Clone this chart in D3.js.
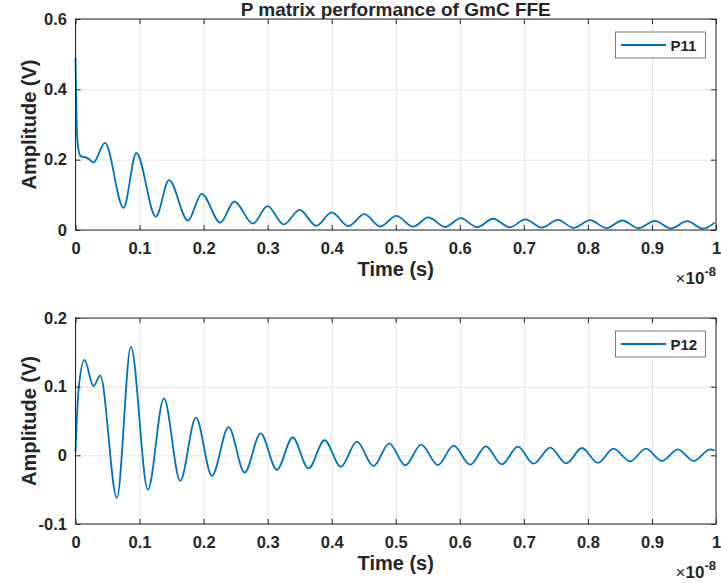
<!DOCTYPE html>
<html>
<head>
<meta charset="utf-8">
<script src="https://cdn.jsdelivr.net/npm/d3@7"></script>
<style>
  html, body { margin: 0; padding: 0; background: #fff; }
  svg { display: block; }
  text { font-family: "Liberation Sans", Arial, Helvetica, sans-serif; font-weight: bold; fill: #262626; }
</style>
</head>
<body>
<svg id="chart" width="721" height="583"></svg>
<script>
// ---------- DATA (time in units of 1e-8 s) ----------
const xTicks = [0, 0.1, 0.2, 0.3, 0.4, 0.5, 0.6, 0.7, 0.8, 0.9, 1];
const xTickLabels = ["0", "0.1", "0.2", "0.3", "0.4", "0.5", "0.6", "0.7", "0.8", "0.9", "1"];
const y1Ticks = [0, 0.2, 0.4, 0.6];
const y1TickLabels = ["0", "0.2", "0.4", "0.6"];
const y2Ticks = [-0.1, 0, 0.1, 0.2];
const y2TickLabels = ["-0.1", "0", "0.1", "0.2"];

const p11Time = [0, 0.0008, 0.002, 0.0045, 0.008, 0.015, 0.02, 0.028, 0.046, 0.075, 0.095, 0.1255, 0.146, 0.1755,
  0.197, 0.226, 0.248, 0.277, 0.2998, 0.325, 0.35, 0.376, 0.4, 0.426, 0.451, 0.476, 0.501, 0.527, 0.551, 0.577,
  0.6015, 0.627, 0.652, 0.678, 0.7025, 0.728, 0.753, 0.778, 0.8035, 0.829, 0.854, 0.879, 0.9045, 0.93, 0.955, 0.98, 0.998];
const p11Values = [0.49, 0.40, 0.29, 0.23, 0.21, 0.207, 0.203, 0.192, 0.248, 0.063, 0.219, 0.038, 0.142, 0.027,
  0.103, 0.021, 0.081, 0.018, 0.068, 0.016, 0.057, 0.012, 0.050, 0.011, 0.045, 0.010, 0.040, 0.0095, 0.036, 0.0085,
  0.034, 0.008, 0.032, 0.0075, 0.030, 0.0068, 0.029, 0.006, 0.028, 0.0055, 0.027, 0.005, 0.026, 0.0045, 0.025, 0.004, 0.021];

const p12Time = [0, 0.0047, 0.014, 0.028, 0.0386, 0.0646, 0.0865, 0.113, 0.138, 0.1635, 0.188, 0.213, 0.239, 0.264,
  0.289, 0.3144, 0.339, 0.3638, 0.3888, 0.4143, 0.4393, 0.4653, 0.4898, 0.5148, 0.5397, 0.5658, 0.5902, 0.6163,
  0.6407, 0.6657, 0.6907, 0.7151, 0.7412, 0.7662, 0.7907, 0.8157, 0.84, 0.866, 0.8906, 0.9156, 0.9405, 0.965, 0.991, 0.998];
const p12Values = [0.005, 0.095, 0.139, 0.101, 0.116, -0.062, 0.158, -0.050, 0.083, -0.037, 0.055, -0.030, 0.041, -0.025,
  0.032, -0.021, 0.026, -0.019, 0.022, -0.0166, 0.020, -0.0156, 0.0175, -0.0146, 0.0155, -0.0141, 0.014, -0.0136,
  0.013, -0.0131, 0.0126, -0.0121, 0.0112, -0.0117, 0.0107, -0.011, 0.0097, -0.0087, 0.0097, -0.0082, 0.0087, -0.0082, 0.0087, 0.007];

const titleText = "P matrix performance of GmC FFE";
const xLabel = "Time (s)";
const yLabel = "Amplitude (V)";
const seriesNames = ["P11", "P12"];
const timeUnit = 1e-8;

// ---------- LAYOUT ----------
const svg = d3.select("#chart");
const lineColor = "#0072BD";
const axisColor = "#262626";
const gridColor = "#e3e3e3";
const left = 75.5, right = 716;

const panels = [
  { top: 19, bottom: 230, domain: [0, 0.6], ticks: y1Ticks, labels: y1TickLabels, t: p11Time, v: p11Values, name: seriesNames[0] },
  { top: 318, bottom: 524, domain: [-0.1, 0.2], ticks: y2Ticks, labels: y2TickLabels, t: p12Time, v: p12Values, name: seriesNames[1] }
];

const x = d3.scaleLinear().domain([0, timeUnit]).range([left, right]);
const xTickVals = xTicks.map(d => d * timeUnit);
const xFmt = (d, i) => xTickLabels[i];

svg.append("text")
  .attr("x", (left + right) / 2).attr("y", 16)
  .attr("text-anchor", "middle").style("font-size", "19px")
  .text(titleText);

panels.forEach((p) => {
  const y = d3.scaleLinear().domain(p.domain).range([p.bottom, p.top]);
  const h = p.bottom - p.top, w = right - left;
  const g = svg.append("g");

  // grid
  g.append("g").attr("transform", `translate(0,${p.bottom})`)
    .call(d3.axisBottom(x).tickValues(xTickVals).tickSize(-h).tickFormat(""))
    .call(s => s.select(".domain").remove())
    .call(s => s.selectAll("line").attr("stroke", gridColor));
  g.append("g").attr("transform", `translate(${left},0)`)
    .call(d3.axisLeft(y).tickValues(p.ticks).tickSize(-w).tickFormat(""))
    .call(s => s.select(".domain").remove())
    .call(s => s.selectAll("line").attr("stroke", gridColor));

  // data line
  const data = p.t.map((t, i) => [t * timeUnit, p.v[i]]);
  g.append("path").datum(data)
    .attr("fill", "none").attr("stroke", lineColor).attr("stroke-width", 1.8)
    .attr("stroke-linejoin", "round")
    .attr("d", d3.line().x(d => x(d[0])).y(d => y(d[1])).curve(d3.curveMonotoneX));

  // axes (MATLAB-style inward ticks on all sides)
  const styleAxis = s => {
    s.select(".domain").remove();
    s.selectAll("line").attr("stroke", axisColor);
    s.selectAll("text").style("font-size", "16.5px").attr("fill", axisColor);
  };
  g.append("g").attr("transform", `translate(0,${p.bottom})`)
    .call(d3.axisBottom(x).tickValues(xTickVals).tickFormat(xFmt).tickSizeInner(-5).tickSizeOuter(0).tickPadding(12.5))
    .call(styleAxis);
  g.append("g").attr("transform", `translate(0,${p.top})`)
    .call(d3.axisTop(x).tickValues(xTickVals).tickFormat("").tickSizeInner(-5).tickSizeOuter(0))
    .call(styleAxis);
  g.append("g").attr("transform", `translate(${left},0)`)
    .call(d3.axisLeft(y).tickValues(p.ticks).tickFormat((d, i) => p.labels[i]).tickSizeInner(-5).tickSizeOuter(0).tickPadding(8.5))
    .call(styleAxis);
  g.append("g").attr("transform", `translate(${right},0)`)
    .call(d3.axisRight(y).tickValues(p.ticks).tickFormat("").tickSizeInner(-5).tickSizeOuter(0))
    .call(styleAxis);

  g.append("rect").attr("x", left).attr("y", p.top).attr("width", w).attr("height", h)
    .attr("fill", "none").attr("stroke", axisColor).attr("stroke-width", 1);

  // axis labels
  g.append("text").attr("x", (left + right) / 2).attr("y", p.bottom + 46)
    .attr("text-anchor", "middle").style("font-size", "20px").text(xLabel);
  g.append("text").attr("transform", `translate(36,${(p.top + p.bottom) / 2}) rotate(-90)`)
    .attr("text-anchor", "middle").style("font-size", "20px").text(yLabel);

  // exponent
  const ex = g.append("text").attr("x", right).attr("y", p.bottom + 54)
    .attr("text-anchor", "end").style("font-size", "17px");
  ex.append("tspan").style("font-weight", "normal").text("\u00d7");
  ex.append("tspan").text("10");
  ex.append("tspan").attr("dy", -8).style("font-size", "13px").text("-8");

  // legend
  const lg = g.append("g").attr("transform", `translate(615.5,${p.top + 13})`);
  lg.append("rect").attr("width", 90).attr("height", 26).attr("fill", "#fff")
    .attr("stroke", axisColor).attr("stroke-width", 0.6);
  lg.append("line").attr("x1", 5.5).attr("x2", 50.5).attr("y1", 13).attr("y2", 13)
    .attr("stroke", lineColor).attr("stroke-width", 1.8);
  lg.append("text").attr("x", 55).attr("y", 18.5).style("font-size", "15px").text(p.name);
});
</script>
</body>
</html>
